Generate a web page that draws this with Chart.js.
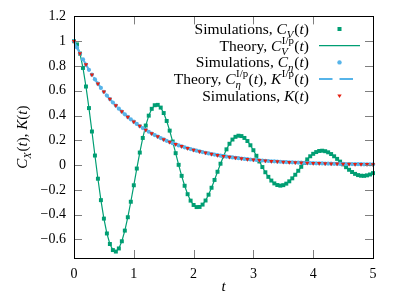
<!DOCTYPE html>
<html><head><meta charset="utf-8">
<script src="https://cdn.jsdelivr.net/npm/chart.js@4.4.1/dist/chart.umd.min.js"></script>
<style>html,body{margin:0;padding:0;background:#fff}canvas{display:block}</style>
</head><body>
<canvas id="c" width="400" height="300"></canvas>
<script>
// ---- data ----
const tFine = [0,0.05,0.1,0.15,0.2,0.25,0.3,0.35,0.4,0.45,0.5,0.55,0.6,0.65,0.7,0.75,0.8,0.85,0.9,0.95,
1,1.05,1.1,1.15,1.2,1.25,1.3,1.35,1.4,1.45,1.5,1.55,1.6,1.65,1.7,1.75,1.8,1.85,1.9,1.95,
2,2.05,2.1,2.15,2.2,2.25,2.3,2.35,2.4,2.45,2.5,2.55,2.6,2.65,2.7,2.75,2.8,2.85,2.9,2.95,
3,3.05,3.1,3.15,3.2,3.25,3.3,3.35,3.4,3.45,3.5,3.55,3.6,3.65,3.7,3.75,3.8,3.85,3.9,3.95,
4,4.05,4.1,4.15,4.2,4.25,4.3,4.35,4.4,4.45,4.5,4.55,4.6,4.65,4.7,4.75,4.8,4.85,4.9,4.95,5];
const tCoarse = [0,0.1,0.2,0.3,0.4,0.5,0.6,0.7,0.8,0.9,1,1.1,1.2,1.3,1.4,1.5,1.6,1.7,1.8,1.9,
2,2.1,2.2,2.3,2.4,2.5,2.6,2.7,2.8,2.9,3,3.1,3.2,3.3,3.4,3.5,3.6,3.7,3.8,3.9,
4,4.1,4.2,4.3,4.4,4.5,4.6,4.7,4.8,4.9,5];
const cV = [1.000,0.974,0.900,0.784,0.634,0.460,0.271,0.077,-0.110,-0.283,
-0.432,-0.552,-0.637,-0.686,-0.698,-0.673,-0.615,-0.529,-0.421,-0.296,
-0.163,-0.028,0.101,0.219,0.319,0.399,0.454,0.483,0.486,0.464,
0.420,0.356,0.278,0.190,0.096,0.002,-0.087,-0.167,-0.235,-0.287,
-0.322,-0.339,-0.338,-0.319,-0.286,-0.239,-0.183,-0.120,-0.054,0.011,
0.072,0.127,0.172,0.206,0.228,0.237,0.234,0.219,0.194,0.160,
0.120,0.075,0.029,-0.016,-0.058,-0.095,-0.125,-0.148,-0.161,-0.166,
-0.162,-0.150,-0.131,-0.107,-0.078,-0.046,-0.014,0.017,0.046,0.071,
0.091,0.105,0.114,0.116,0.112,0.103,0.089,0.071,0.050,0.028,
0.006,-0.017,-0.038,-0.056,-0.071,-0.081,-0.086,-0.087,-0.083,-0.076,-0.065];
const cEta = [1.000,0.949,0.900,0.854,0.811,0.769,0.730,0.692,0.657,0.623,
0.592,0.561,0.533,0.505,0.480,0.455,0.432,0.410,0.389,0.369,
0.350,0.332,0.315,0.299,0.284,0.269,0.255,0.242,0.230,0.218,
0.207,0.196,0.186,0.177,0.168,0.159,0.151,0.143,0.136,0.129,
0.122,0.116,0.110,0.105,0.099,0.094,0.089,0.085,0.080,0.076,
0.072,0.069,0.065,0.062,0.059,0.056,0.053,0.050,0.048,0.045,
0.043,0.041,0.039,0.037,0.035,0.033,0.031,0.030,0.028,0.027,
0.025,0.024,0.023,0.022,0.021,0.020,0.019,0.018,0.017,0.016,
0.015,0.014,0.014,0.013,0.012,0.012,0.011,0.010,0.010,0.009,
0.009,0.008,0.008,0.008,0.007,0.007,0.007,0.006,0.006,0.006,0.005];
const kSim = [1.000,0.900,0.811,0.730,0.657,0.592,0.533,0.480,0.432,0.389,
0.350,0.315,0.284,0.255,0.230,0.207,0.186,0.168,0.151,0.136,
0.122,0.110,0.099,0.089,0.080,0.072,0.065,0.059,0.053,0.048,
0.043,0.039,0.035,0.031,0.028,0.025,0.023,0.021,0.019,0.017,
0.015,0.014,0.012,0.011,0.010,0.009,0.008,0.007,0.007,0.006,0.005];
const xTicks = [0,1,2,3,4,5];
const xTickLabels = ['0','1','2','3','4','5'];
const yTicks = [-0.6,-0.4,-0.2,0,0.2,0.4,0.6,0.8,1,1.2];
const yTickLabels = ['\u22120.6','\u22120.4','\u22120.2','0','0.2','0.4','0.6','0.8','1','1.2'];

const GREEN = '#009e73', BLUE = '#56b4e9', RED = '#e51e10';
const FAM = "'Liberation Serif', 'Times New Roman', serif";
const pts = (xs, ys) => xs.map((x, i) => ({x: x, y: ys[i]}));

function fnt(size, it){ return (it ? 'italic ' : '') + size + 'px ' + FAM; }
function partsWidth(ctx, parts, S){
  const s2 = S * 0.7;
  let w = 0;
  for (const p of parts){
    if (p.t !== undefined){ ctx.font = fnt(S, p.i); w += ctx.measureText(p.t).width; }
    else {
      let ws = 0, wp = 0;
      if (p.sub){ ctx.font = fnt(s2, p.subI); ws = ctx.measureText(p.sub).width; }
      if (p.sup){ ctx.font = fnt(s2, false); wp = ctx.measureText(p.sup).width; }
      w += Math.max(ws, wp) + 1;
    }
  }
  return w;
}
function drawParts(ctx, parts, x, y, align, S){
  const s2 = S * 0.7;
  const w = partsWidth(ctx, parts, S);
  let cx = align === 'right' ? x - w : (align === 'center' ? x - w / 2 : x);
  ctx.textAlign = 'left'; ctx.textBaseline = 'alphabetic'; ctx.fillStyle = '#000';
  for (const p of parts){
    if (p.t !== undefined){
      ctx.font = fnt(S, p.i); ctx.fillText(p.t, cx, y); cx += ctx.measureText(p.t).width;
    } else {
      let ws = 0, wp = 0;
      if (p.sub){ ctx.font = fnt(s2, p.subI); ctx.fillText(p.sub, cx, y + S * 0.25); ws = ctx.measureText(p.sub).width; }
      if (p.sup){ ctx.font = fnt(s2, false); ctx.fillText(p.sup, cx + 0.5, y - S * 0.45); wp = ctx.measureText(p.sup).width; }
      cx += Math.max(ws, wp) + 1;
    }
  }
}

const legendRows = [
  {parts:[{t:'Simulations, '},{t:'C',i:1},{sub:'V',subI:1},{t:'('},{t:'t',i:1},{t:')'}], kind:'square'},
  {parts:[{t:'Theory, '},{t:'C',i:1},{sub:'V',subI:1,sup:'I/p'},{t:'('},{t:'t',i:1},{t:')'}], kind:'line'},
  {parts:[{t:'Simulations, '},{t:'C',i:1},{sub:'\u03b7',subI:1},{t:'('},{t:'t',i:1},{t:')'}], kind:'circle'},
  {parts:[{t:'Theory, '},{t:'C',i:1},{sub:'\u03b7',subI:1,sup:'I/p'},{t:'('},{t:'t',i:1},{t:'), '},{t:'K',i:1},{sup:'I/p'},{t:'('},{t:'t',i:1},{t:')'}], kind:'dash'},
  {parts:[{t:'Simulations, '},{t:'K',i:1},{t:'('},{t:'t',i:1},{t:')'}], kind:'tri'}
];
const yTitleParts = [{t:'C',i:1},{sub:'X',subI:1},{t:'('},{t:'t',i:1},{t:'), '},{t:'K',i:1},{t:'('},{t:'t',i:1},{t:')'}];

const framePlugin = {
  id: 'frame',
  afterDatasetsDraw(chart){
    const ctx = chart.ctx, a = chart.chartArea;
    const xs = chart.scales.x, ys = chart.scales.y;
    ctx.save();
    ctx.lineWidth = 1; ctx.strokeStyle = '#7f7f7f';
    ctx.beginPath();
    for (const v of xTicks){
      const px = Math.round(xs.getPixelForValue(v)) + 0.5;
      ctx.moveTo(px, a.bottom); ctx.lineTo(px, a.bottom - 8);
      ctx.moveTo(px, a.top); ctx.lineTo(px, a.top + 8);
    }
    for (const v of yTicks){
      const py = Math.round(ys.getPixelForValue(v)) + 0.5;
      ctx.moveTo(a.left, py); ctx.lineTo(a.left + 8, py);
      ctx.moveTo(a.right, py); ctx.lineTo(a.right - 8, py);
    }
    ctx.stroke();
    ctx.strokeStyle = '#000';
    const L = Math.round(a.left) + 0.5, R = Math.round(a.right) + 0.5, T = Math.round(a.top) + 0.5, B = Math.round(a.bottom) + 0.5;
    ctx.strokeRect(L, T, R - L, B - T);
    ctx.restore();
  },
  afterDraw(chart){
    const ctx = chart.ctx;
    ctx.save();
    const textRight = 309, sx0 = 319, sx1 = 360, sxm = 339.5;
    legendRows.forEach((row, i) => {
      const cy = 29 + i * 16.7;
      drawParts(ctx, row.parts, textRight, cy + 5, 'right', 15.5);
      ctx.save();
      if (row.kind === 'square'){ ctx.fillStyle = GREEN; ctx.fillRect(sxm - 2, cy - 2, 4, 4); }
      else if (row.kind === 'line'){ ctx.strokeStyle = GREEN; ctx.lineWidth = 1.2; ctx.beginPath(); ctx.moveTo(sx0, cy); ctx.lineTo(sx1, cy); ctx.stroke(); }
      else if (row.kind === 'circle'){ ctx.fillStyle = BLUE; ctx.beginPath(); ctx.arc(sxm, cy, 2.2, 0, Math.PI * 2); ctx.fill(); }
      else if (row.kind === 'dash'){ ctx.strokeStyle = BLUE; ctx.lineWidth = 2; ctx.setLineDash([13.5, 7]); ctx.beginPath(); ctx.moveTo(sx0, cy); ctx.lineTo(sx1, cy); ctx.stroke(); }
      else if (row.kind === 'tri'){ ctx.fillStyle = RED; ctx.beginPath(); ctx.moveTo(sxm - 2.2, cy - 1.3); ctx.lineTo(sxm + 2.2, cy - 1.3); ctx.lineTo(sxm, cy + 2.2); ctx.closePath(); ctx.fill(); }
      ctx.restore();
    });
    // y axis title
    const a = chart.chartArea;
    ctx.translate(27, (a.top + a.bottom) / 2);
    ctx.rotate(-Math.PI / 2);
    drawParts(ctx, yTitleParts, 0, 0, 'center', 15);
    ctx.restore();
  }
};

new Chart(document.getElementById('c'), {
  type: 'scatter',
  data: {
    datasets: [
      {label: 'Simulations, C_V(t)', data: pts(tFine, cV), showLine: false, pointStyle: 'rect', pointRadius: 2.8,
       backgroundColor: GREEN, borderWidth: 0, order: 5, clip: false},
      {label: 'Theory, C_V^{I/p}(t)', data: pts(tFine, cV), showLine: true, pointRadius: 0, borderColor: GREEN,
       borderWidth: 1.2, tension: 0, order: 4, clip: false},
      {label: 'Simulations, C_eta(t)', data: pts(tFine, cEta), showLine: false, pointStyle: 'circle', pointRadius: 2.1,
       backgroundColor: BLUE, borderWidth: 0, order: 3, clip: false},
      {label: 'Theory, C_eta^{I/p}(t), K^{I/p}(t)', data: pts(tFine, cEta), showLine: true, pointRadius: 0, borderColor: BLUE,
       borderWidth: 2, borderDash: [13.5, 7], tension: 0, order: 2, clip: false},
      {label: 'Simulations, K(t)', data: pts(tCoarse, kSim), showLine: false, pointStyle: 'triangle', rotation: 180, pointRadius: 2.5,
       backgroundColor: RED, borderWidth: 0, order: 1, clip: false}
    ]
  },
  options: {
    responsive: false, animation: false, devicePixelRatio: 1, events: [],
    layout: {padding: {left: 0, right: 27, top: 15, bottom: 0}},
    plugins: {legend: {display: false}, tooltip: {enabled: false}},
    scales: {
      x: {
        type: 'linear', min: 0, max: 5,
        grid: {display: false, drawTicks: false}, border: {display: false},
        afterBuildTicks: s => { s.ticks = xTicks.map(v => ({value: v})); },
        ticks: {font: {family: FAM, size: 14}, color: '#000', padding: 8, maxRotation: 0,
                callback: v => xTickLabels[xTicks.indexOf(v)]},
        title: {display: true, text: 't', color: '#000', font: {family: FAM, size: 15, style: 'italic'}, padding: {top: 0, bottom: 4}},
        afterFit: s => { s.height = 42; }
      },
      y: {
        type: 'linear', min: -0.75, max: 1.2,
        grid: {display: false, drawTicks: false}, border: {display: false},
        afterBuildTicks: s => { s.ticks = yTicks.map(v => ({value: v})); },
        ticks: {font: {family: FAM, size: 14}, color: '#000', padding: 8,
                callback: v => { const i = yTicks.findIndex(t => Math.abs(t - v) < 1e-9); return i >= 0 ? yTickLabels[i] : ''; }},
        afterFit: s => { s.width = 74; }
      }
    }
  },
  plugins: [framePlugin]
});
</script>
</body></html>
